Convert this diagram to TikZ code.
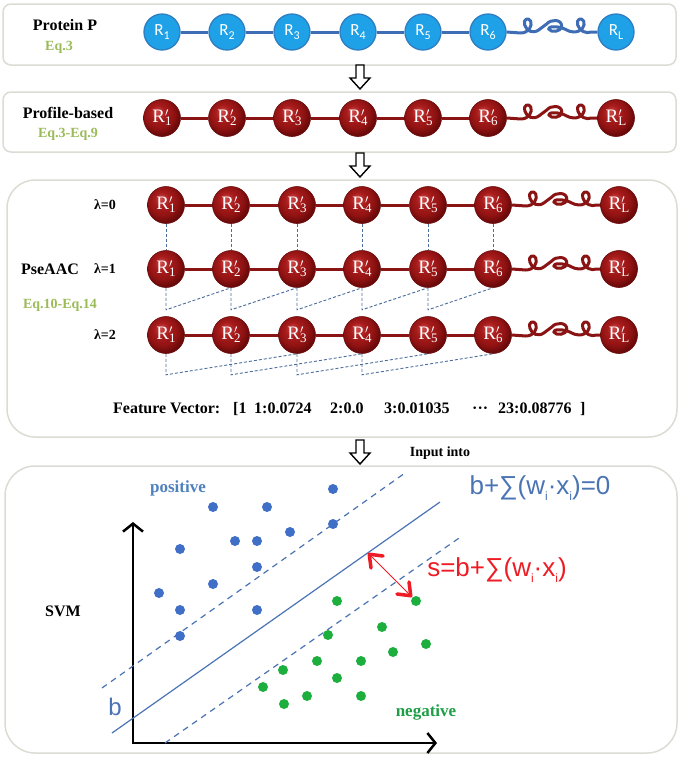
\documentclass[tikz,border=0pt]{standalone}
\usepackage{fontspec}
\setmainfont{Liberation Serif}
\newfontfamily\sansf{Carlito}
\newfontfamily\eqf{Liberation Sans}
\usetikzlibrary{arrows.meta}

\definecolor{boxgray}{HTML}{DCDCD4}
\definecolor{bluefill}{HTML}{1EA1E6}
\definecolor{blueedge}{HTML}{2F7EC2}
\definecolor{bluecon}{HTML}{3E6DB5}
\definecolor{redcon}{HTML}{8A1414}
\definecolor{eqgreen}{HTML}{9BBB59}
\definecolor{dashblue}{HTML}{4D6E9C}
\definecolor{svmblue}{HTML}{4A74B4}
\definecolor{dotblue}{HTML}{3F6FC6}
\definecolor{dotgreen}{HTML}{1DAF3D}
\definecolor{neggreen}{HTML}{1E9E46}
\definecolor{posblue}{HTML}{4F81BD}
\definecolor{eqred}{HTML}{EE1C25}
\definecolor{rb1}{HTML}{D04848}
\definecolor{rb2}{HTML}{A81C1C}
\definecolor{rb3}{HTML}{901212}
\definecolor{rb4}{HTML}{6A0A0A}
\pgfdeclareradialshading{redball}{\pgfqpoint{-7bp}{9bp}}{color(0bp)=(rb1); color(10bp)=(rb2); color(20bp)=(rb3); color(27bp)=(rb4); color(50bp)=(rb4)}

\newcommand\bR[1]{R\raisebox{-3.5pt}{\fontsize{12}{12}\selectfont #1}}
\newcommand\rR[1]{R\rlap{\raisebox{5.5pt}{\fontsize{13}{13}\selectfont$\prime$}}\raisebox{-3.5pt}{\fontsize{13}{13}\selectfont #1}}
\newcommand\subi[1]{\raisebox{-5.5pt}{\fontsize{12}{12}\selectfont #1}}

% coil connector from node #2 to node #3 with style #1
\newcommand\mycoil[3]{%
\begin{scope}[shift={(#2.east)}]
\draw[#1, line join=round] (#2.east) -- (14,1)
 .. controls (22,1) and (26,-6) .. (24,-11)
 .. controls (22,-15) and (16,-13) .. (18,-7)
 .. controls (20,-1) and (26,2) .. (32,-2)
 .. controls (35,-4) and (37,-6) .. (40,-8)
 .. controls (44,-13) and (55,-13) .. (55,-6)
 .. controls (55,0) and (44,1) .. (42,-3)
 .. controls (41,-6) and (52,-6) .. (58,-3)
 .. controls (62,-1) and (64,0) .. (67,0)
 .. controls (75,0) and (79,-6) .. (77,-11)
 .. controls (75,-15) and (69,-13) .. (71,-7)
 .. controls (73,-1) and (79,2) .. (85,0)
 -- (#3.west);
\end{scope}}

\newcommand\hollowdown[2]{%
\draw[hollow] (#1-4,#2) -- (#1+4,#2) -- (#1+4,#2+13) -- (#1+10,#2+13) -- (#1,#2+24) -- (#1-10,#2+13) -- (#1-4,#2+13) -- cycle;}

\tikzset{
 frame/.style={draw=boxgray, line width=1.5pt, fill=white},
 hollow/.style={draw=black, line width=1.4pt, fill=white, line join=miter},
 bnode/.style={circle, draw=blueedge, line width=1.3pt, fill=bluefill, minimum size=36pt, inner sep=0pt, text=white, font=\sansf\fontsize{17}{17}\selectfont},
 rnode/.style={circle, draw=rb4, line width=0.6pt, shade, shading=redball, minimum size=37pt, inner sep=0pt, text=white, font=\fontsize{19}{19}\selectfont},
 bcon/.style={draw=bluecon, line width=3pt},
 rcon/.style={draw=redcon, line width=3pt},
 dsh/.style={draw=dashblue, line width=0.9pt, dash pattern=on 3pt off 2pt},
 lbl/.style={font=\bfseries\fontsize{16}{16}\selectfont, inner sep=0pt},
 eqlbl/.style={font=\bfseries\fontsize{14}{14}\selectfont, text=eqgreen, inner sep=0pt},
 lam/.style={font=\bfseries\fontsize{14}{14}\selectfont, inner sep=0pt},
 axis/.style={draw=black, line width=2pt},
 svml/.style={draw=svmblue, line width=1.2pt},
 svmd/.style={draw=svmblue, line width=1.2pt, dash pattern=on 6pt off 5pt},
 redtip/.tip={Straight Barb[length=11pt,width=17pt,line width=3.5pt,round]},
}

\begin{document}
\begin{tikzpicture}[x=1pt,y=-1pt]
\useasboundingbox[fill=white] (0,0) rectangle (685,758);

% frames
\draw[frame, rounded corners=8pt] (3,4) rectangle (676,65);
\draw[frame, rounded corners=8pt] (3,92) rectangle (676,152);
\draw[frame, rounded corners=28pt] (7,180) rectangle (677,437);
\draw[frame, rounded corners=30pt] (5,466) rectangle (677,753);

% hollow arrows
\hollowdown{360}{65}
\hollowdown{360}{153}
\hollowdown{360}{440}

% row A (blue)
\foreach \i/\x in {1/162,2/227,3/292,4/358,5/423,6/488}
  \node[bnode] (A\i) at (\x,32) {\bR{\i}};
\node[bnode] (AL) at (616,32) {\bR{L}};
\foreach \i/\j in {1/2,2/3,3/4,4/5,5/6} \draw[bcon] (A\i) -- (A\j);
\mycoil{bcon}{A6}{AL}

% row B (red)
\foreach \i/\x in {1/162,2/227,3/292,4/358,5/423,6/488}
  \node[rnode] (B\i) at (\x,118) {\rR{\i}};
\node[rnode] (BL) at (616,118) {\rR{L}};
\foreach \i/\j in {1/2,2/3,3/4,4/5,5/6} \draw[rcon] (B\i) -- (B\j);
\mycoil{rcon}{B6}{BL}

% rows C, D, E
\foreach \r/\y in {C/205,D/269,E/335}{
  \foreach \i/\x in {1/166,2/231,3/297,4/362,5/428,6/493}
    \node[rnode] (\r\i) at (\x,\y) {\rR{\i}};
  \node[rnode] (\r L) at (619,\y) {\rR{L}};
  \foreach \i/\j in {1/2,2/3,3/4,4/5,5/6} \draw[rcon] (\r\i) -- (\r\j);
  \mycoil{rcon}{\r6}{\r L}
}

% dashed correlations
\foreach \i in {1,...,6} \draw[dsh] (C\i.south) -- (D\i.north);
\foreach \i/\j in {1/2,2/3,3/4,4/5,5/6} \draw[dsh] (D\i.south) -- ++(0,22) -- (D\j.south);
\foreach \i/\j in {1/3,2/4,3/5,4/6} \draw[dsh] (E\i.south) -- ++(0,21) -- (E\j.south);

% labels top
\node[lbl] (tP) at (65,25) {Protein P};
\node[eqlbl] (tE1) at (59,47) {Eq.3};
\node[lbl] (tPB) at (68,113) {Profile-based};
\node[eqlbl] (tE2) at (68,134) {Eq.3-Eq.9};
\node[lam] (l0) at (105,205) {λ=0};
\node[lam] (l1) at (105,269) {λ=1};
\node[lam] (l2) at (105,335) {λ=2};
\node[lbl] (tPse) at (50,269) {PseAAC};
\node[eqlbl] (tE3) at (60,305) {Eq.10-Eq.14};
\node[lbl, anchor=base west] (fv) at (113,413) {\makebox[120pt][l]{Feature Vector:}\makebox[21pt][l]{[1}\makebox[76pt][l]{1:0.0724}\makebox[54pt][l]{2:0.0}\makebox[88pt][l]{3:0.01035}\makebox[26pt][l]{···}\makebox[82pt][l]{23:0.08776}]};
\node[font=\bfseries\fontsize{14}{14}\selectfont, inner sep=0pt] (tIn) at (440,453) {Input into};

% SVM panel
\node[lbl] (tsvm) at (63,611) {SVM};
\node[font=\bfseries\fontsize{17}{17}\selectfont, text=posblue, inner sep=0pt] (tpos) at (178,488) {positive};
\node[font=\bfseries\fontsize{17}{17}\selectfont, text=neggreen, inner sep=0pt] (tneg) at (426,712) {negative};

\coordinate (O) at (133,743);
\coordinate (Ytop) at (133,522);
\coordinate (Xend) at (437,743);
\draw[axis, {Straight Barb[length=8pt,width=20pt,line width=2.5pt]}-{Straight Barb[length=8pt,width=20pt,line width=2.5pt]}] (Ytop) -- (O) -- (Xend);

\coordinate (s1) at (112,733); \coordinate (s2) at (440,502);
\coordinate (u1) at (102,688); \coordinate (u2) at (405,473);
\coordinate (d1) at (165,743); \coordinate (d2) at (462,536);
\draw[svml] (s1) -- (s2);
\draw[svmd] (u1) -- (u2);
\draw[svmd] (d1) -- (d2);

\node[font=\eqf\fontsize{24}{24}\selectfont, text=svmblue, inner sep=0pt] (tb) at (115,707) {b};
\node[font=\eqf\fontsize{26}{26}\selectfont, text=svmblue, inner sep=0pt] (eq1) at (540,488) {b+∑(w\subi{i}·x\subi{i})=0};
\node[font=\eqf\fontsize{26}{26}\selectfont, text=eqred, inner sep=0pt] (eq2) at (497,570) {s=b+∑(w\subi{i}·x\subi{i})};

\coordinate (r1) at (368,553); \coordinate (r2) at (412,597);
\draw[draw=eqred, line width=1pt, redtip-redtip] (r1) -- (r2);

% dots
\foreach \x/\y in {333/489,213/507,267/507,333/524,290/532,235/541,257/541,180/549,257/567,213/584,159/593,180/610,257/610,180/636}
  \fill[dotblue] (\x,\y) circle (5pt);
\foreach \x/\y in {337/601,416/601,382/627,328/635,426/644,393/652,317/661,361/661,283/670,337/678,263/687,307/696,361/696,284/704}
  \fill[dotgreen] (\x,\y) circle (5pt);
\end{tikzpicture}
\end{document}
